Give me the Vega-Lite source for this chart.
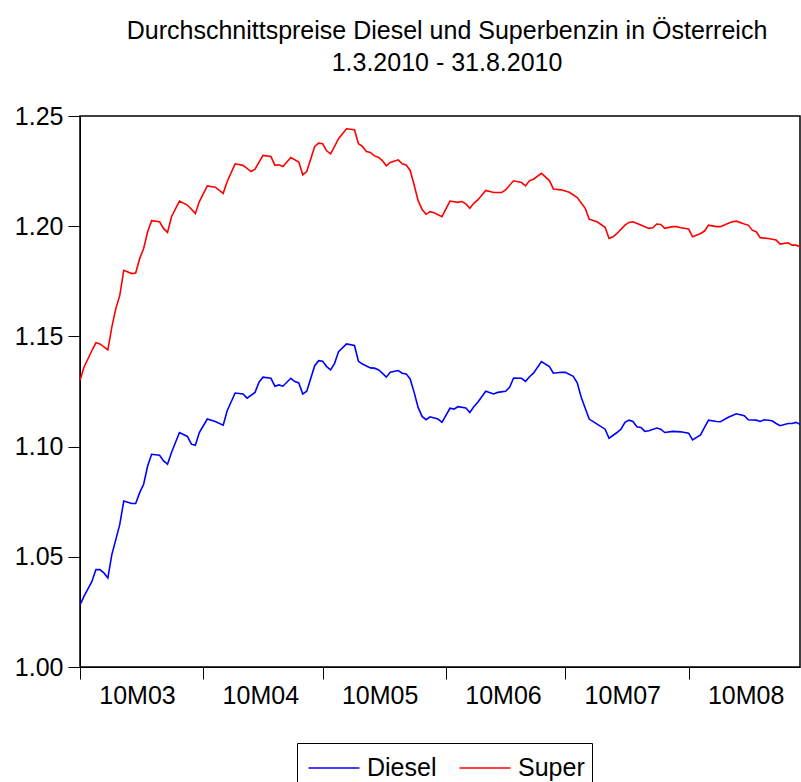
{
  "$schema": "https://vega.github.io/schema/vega-lite/v6.json",
  "width": 720,
  "height": 551,
  "autosize": {"type": "none"},
  "padding": {"left": 80, "top": 116, "right": 1, "bottom": 115},
  "background": "white",
  "config": {
    "font": "Liberation Sans",
    "view": {"stroke": "black", "strokeWidth": 1.5},
    "axis": {"grid": false, "domainColor": "black", "tickColor": "black", "labelColor": "black", "labelFont": "Liberation Sans", "labelFontSize": 25, "title": null}
  },
  "title": {
    "text": ["Durchschnittspreise Diesel und Superbenzin in Österreich", "1.3.2010 - 31.8.2010"],
    "fontSize": 25,
    "fontWeight": "normal",
    "font": "Liberation Sans",
    "lineHeight": 32,
    "anchor": "middle",
    "dx": 7,
    "offset": 28,
    "color": "black"
  },
  "data": {
    "values": [
      {"date":"2010-03-01","s":"Super","v":1.130},{"date":"2010-03-02","s":"Super","v":1.136},{"date":"2010-03-04","s":"Super","v":1.1436},{"date":"2010-03-05","s":"Super","v":1.1471},{"date":"2010-03-06","s":"Super","v":1.1466},{"date":"2010-03-08","s":"Super","v":1.1439},{"date":"2010-03-09","s":"Super","v":1.1542},{"date":"2010-03-10","s":"Super","v":1.1626},{"date":"2010-03-11","s":"Super","v":1.1686},{"date":"2010-03-12","s":"Super","v":1.1800},{"date":"2010-03-14","s":"Super","v":1.1785},{"date":"2010-03-15","s":"Super","v":1.1788},{"date":"2010-03-16","s":"Super","v":1.1853},{"date":"2010-03-17","s":"Super","v":1.1899},{"date":"2010-03-18","s":"Super","v":1.1975},{"date":"2010-03-19","s":"Super","v":1.2025},{"date":"2010-03-21","s":"Super","v":1.2020},{"date":"2010-03-22","s":"Super","v":1.1990},{"date":"2010-03-23","s":"Super","v":1.1972},{"date":"2010-03-24","s":"Super","v":1.2043},{"date":"2010-03-26","s":"Super","v":1.2114},{"date":"2010-03-28","s":"Super","v":1.2096},{"date":"2010-03-30","s":"Super","v":1.2058},{"date":"2010-03-31","s":"Super","v":1.2112},
      {"date":"2010-04-02","s":"Super","v":1.2183},{"date":"2010-04-04","s":"Super","v":1.2177},{"date":"2010-04-06","s":"Super","v":1.2149},{"date":"2010-04-07","s":"Super","v":1.2203},{"date":"2010-04-09","s":"Super","v":1.2283},{"date":"2010-04-11","s":"Super","v":1.2276},{"date":"2010-04-13","s":"Super","v":1.2248},{"date":"2010-04-14","s":"Super","v":1.2259},{"date":"2010-04-16","s":"Super","v":1.2321},{"date":"2010-04-18","s":"Super","v":1.2316},{"date":"2010-04-19","s":"Super","v":1.2276},{"date":"2010-04-20","s":"Super","v":1.2279},{"date":"2010-04-21","s":"Super","v":1.2271},{"date":"2010-04-23","s":"Super","v":1.2312},{"date":"2010-04-25","s":"Super","v":1.2291},{"date":"2010-04-26","s":"Super","v":1.2233},{"date":"2010-04-27","s":"Super","v":1.2248},{"date":"2010-04-29","s":"Super","v":1.2362},{"date":"2010-04-30","s":"Super","v":1.2377},
      {"date":"2010-05-01","s":"Super","v":1.2374},{"date":"2010-05-02","s":"Super","v":1.2342},{"date":"2010-05-03","s":"Super","v":1.2328},{"date":"2010-05-04","s":"Super","v":1.2362},{"date":"2010-05-05","s":"Super","v":1.2397},{"date":"2010-05-07","s":"Super","v":1.2442},{"date":"2010-05-09","s":"Super","v":1.2438},{"date":"2010-05-10","s":"Super","v":1.2374},{"date":"2010-05-11","s":"Super","v":1.2362},{"date":"2010-05-12","s":"Super","v":1.2339},{"date":"2010-05-13","s":"Super","v":1.2335},{"date":"2010-05-14","s":"Super","v":1.2319},{"date":"2010-05-15","s":"Super","v":1.2313},{"date":"2010-05-16","s":"Super","v":1.2298},{"date":"2010-05-17","s":"Super","v":1.2274},{"date":"2010-05-18","s":"Super","v":1.2289},{"date":"2010-05-20","s":"Super","v":1.2301},{"date":"2010-05-21","s":"Super","v":1.2283},{"date":"2010-05-22","s":"Super","v":1.2278},{"date":"2010-05-23","s":"Super","v":1.2253},{"date":"2010-05-24","s":"Super","v":1.2187},{"date":"2010-05-25","s":"Super","v":1.2116},{"date":"2010-05-26","s":"Super","v":1.2076},{"date":"2010-05-27","s":"Super","v":1.2054},{"date":"2010-05-28","s":"Super","v":1.2066},{"date":"2010-05-29","s":"Super","v":1.2061},{"date":"2010-05-31","s":"Super","v":1.2043},
      {"date":"2010-06-02","s":"Super","v":1.2114},{"date":"2010-06-04","s":"Super","v":1.2108},{"date":"2010-06-05","s":"Super","v":1.2112},{"date":"2010-06-06","s":"Super","v":1.2101},{"date":"2010-06-07","s":"Super","v":1.2081},{"date":"2010-06-08","s":"Super","v":1.2104},{"date":"2010-06-09","s":"Super","v":1.2119},{"date":"2010-06-11","s":"Super","v":1.2162},{"date":"2010-06-13","s":"Super","v":1.2153},{"date":"2010-06-15","s":"Super","v":1.2153},{"date":"2010-06-16","s":"Super","v":1.2165},{"date":"2010-06-18","s":"Super","v":1.2206},{"date":"2010-06-20","s":"Super","v":1.2198},{"date":"2010-06-21","s":"Super","v":1.2183},{"date":"2010-06-22","s":"Super","v":1.2207},{"date":"2010-06-23","s":"Super","v":1.2213},{"date":"2010-06-25","s":"Super","v":1.2240},{"date":"2010-06-27","s":"Super","v":1.2207},{"date":"2010-06-28","s":"Super","v":1.2169},{"date":"2010-06-30","s":"Super","v":1.2165},
      {"date":"2010-07-02","s":"Super","v":1.2154},{"date":"2010-07-04","s":"Super","v":1.2130},{"date":"2010-07-06","s":"Super","v":1.2081},{"date":"2010-07-07","s":"Super","v":1.2032},{"date":"2010-07-09","s":"Super","v":1.2020},{"date":"2010-07-11","s":"Super","v":1.1995},{"date":"2010-07-12","s":"Super","v":1.1944},{"date":"2010-07-13","s":"Super","v":1.1952},{"date":"2010-07-14","s":"Super","v":1.1967},{"date":"2010-07-16","s":"Super","v":1.2005},{"date":"2010-07-17","s":"Super","v":1.2017},{"date":"2010-07-18","s":"Super","v":1.2020},{"date":"2010-07-20","s":"Super","v":1.2005},{"date":"2010-07-22","s":"Super","v":1.1990},{"date":"2010-07-23","s":"Super","v":1.1993},{"date":"2010-07-24","s":"Super","v":1.2010},{"date":"2010-07-25","s":"Super","v":1.2008},{"date":"2010-07-26","s":"Super","v":1.1990},{"date":"2010-07-28","s":"Super","v":1.1998},{"date":"2010-07-29","s":"Super","v":1.1998},{"date":"2010-07-30","s":"Super","v":1.1993},
      {"date":"2010-08-01","s":"Super","v":1.1987},{"date":"2010-08-02","s":"Super","v":1.1952},{"date":"2010-08-04","s":"Super","v":1.1967},{"date":"2010-08-05","s":"Super","v":1.1978},{"date":"2010-08-06","s":"Super","v":1.2005},{"date":"2010-08-08","s":"Super","v":1.1998},{"date":"2010-08-09","s":"Super","v":1.1998},{"date":"2010-08-11","s":"Super","v":1.2013},{"date":"2010-08-12","s":"Super","v":1.2020},{"date":"2010-08-13","s":"Super","v":1.2023},{"date":"2010-08-15","s":"Super","v":1.2010},{"date":"2010-08-16","s":"Super","v":1.2005},{"date":"2010-08-17","s":"Super","v":1.1982},{"date":"2010-08-18","s":"Super","v":1.1975},{"date":"2010-08-19","s":"Super","v":1.1948},{"date":"2010-08-21","s":"Super","v":1.1944},{"date":"2010-08-23","s":"Super","v":1.1937},{"date":"2010-08-24","s":"Super","v":1.1919},{"date":"2010-08-26","s":"Super","v":1.1925},{"date":"2010-08-27","s":"Super","v":1.1914},{"date":"2010-08-28","s":"Super","v":1.1914},{"date":"2010-08-29","s":"Super","v":1.1907},
      {"date":"2010-03-01","s":"Diesel","v":1.0282},{"date":"2010-03-02","s":"Diesel","v":1.0320},{"date":"2010-03-04","s":"Diesel","v":1.0388},{"date":"2010-03-05","s":"Diesel","v":1.0442},{"date":"2010-03-06","s":"Diesel","v":1.0442},{"date":"2010-03-07","s":"Diesel","v":1.0427},{"date":"2010-03-08","s":"Diesel","v":1.0404},{"date":"2010-03-09","s":"Diesel","v":1.0510},{"date":"2010-03-10","s":"Diesel","v":1.0578},{"date":"2010-03-11","s":"Diesel","v":1.0647},{"date":"2010-03-12","s":"Diesel","v":1.0753},{"date":"2010-03-14","s":"Diesel","v":1.0742},{"date":"2010-03-15","s":"Diesel","v":1.0742},{"date":"2010-03-16","s":"Diesel","v":1.0791},{"date":"2010-03-17","s":"Diesel","v":1.0829},{"date":"2010-03-18","s":"Diesel","v":1.0912},{"date":"2010-03-19","s":"Diesel","v":1.0965},{"date":"2010-03-21","s":"Diesel","v":1.0961},{"date":"2010-03-22","s":"Diesel","v":1.0935},{"date":"2010-03-23","s":"Diesel","v":1.0920},{"date":"2010-03-24","s":"Diesel","v":1.0973},{"date":"2010-03-26","s":"Diesel","v":1.1064},{"date":"2010-03-28","s":"Diesel","v":1.1046},{"date":"2010-03-29","s":"Diesel","v":1.1011},{"date":"2010-03-30","s":"Diesel","v":1.1006},{"date":"2010-03-31","s":"Diesel","v":1.1064},
      {"date":"2010-04-02","s":"Diesel","v":1.1125},{"date":"2010-04-04","s":"Diesel","v":1.1114},{"date":"2010-04-06","s":"Diesel","v":1.1097},{"date":"2010-04-07","s":"Diesel","v":1.1163},{"date":"2010-04-09","s":"Diesel","v":1.1243},{"date":"2010-04-11","s":"Diesel","v":1.1239},{"date":"2010-04-12","s":"Diesel","v":1.1220},{"date":"2010-04-14","s":"Diesel","v":1.1246},{"date":"2010-04-15","s":"Diesel","v":1.1292},{"date":"2010-04-16","s":"Diesel","v":1.1315},{"date":"2010-04-18","s":"Diesel","v":1.1310},{"date":"2010-04-19","s":"Diesel","v":1.1274},{"date":"2010-04-20","s":"Diesel","v":1.1280},{"date":"2010-04-21","s":"Diesel","v":1.1274},{"date":"2010-04-23","s":"Diesel","v":1.1310},{"date":"2010-04-24","s":"Diesel","v":1.1295},{"date":"2010-04-25","s":"Diesel","v":1.1289},{"date":"2010-04-26","s":"Diesel","v":1.1239},{"date":"2010-04-27","s":"Diesel","v":1.1251},{"date":"2010-04-29","s":"Diesel","v":1.1367},{"date":"2010-04-30","s":"Diesel","v":1.1390},
      {"date":"2010-05-01","s":"Diesel","v":1.1387},{"date":"2010-05-02","s":"Diesel","v":1.1363},{"date":"2010-05-03","s":"Diesel","v":1.1348},{"date":"2010-05-04","s":"Diesel","v":1.1378},{"date":"2010-05-05","s":"Diesel","v":1.1431},{"date":"2010-05-07","s":"Diesel","v":1.1466},{"date":"2010-05-09","s":"Diesel","v":1.1459},{"date":"2010-05-10","s":"Diesel","v":1.1387},{"date":"2010-05-11","s":"Diesel","v":1.1375},{"date":"2010-05-13","s":"Diesel","v":1.1357},{"date":"2010-05-14","s":"Diesel","v":1.1356},{"date":"2010-05-15","s":"Diesel","v":1.1349},{"date":"2010-05-16","s":"Diesel","v":1.1333},{"date":"2010-05-17","s":"Diesel","v":1.1315},{"date":"2010-05-18","s":"Diesel","v":1.1337},{"date":"2010-05-20","s":"Diesel","v":1.1345},{"date":"2010-05-21","s":"Diesel","v":1.1333},{"date":"2010-05-22","s":"Diesel","v":1.1330},{"date":"2010-05-23","s":"Diesel","v":1.1307},{"date":"2010-05-24","s":"Diesel","v":1.1246},{"date":"2010-05-25","s":"Diesel","v":1.1178},{"date":"2010-05-26","s":"Diesel","v":1.1137},{"date":"2010-05-27","s":"Diesel","v":1.1122},{"date":"2010-05-28","s":"Diesel","v":1.1135},{"date":"2010-05-30","s":"Diesel","v":1.1125},{"date":"2010-05-31","s":"Diesel","v":1.1110},
      {"date":"2010-06-02","s":"Diesel","v":1.1174},{"date":"2010-06-03","s":"Diesel","v":1.1170},{"date":"2010-06-04","s":"Diesel","v":1.1181},{"date":"2010-06-06","s":"Diesel","v":1.1175},{"date":"2010-06-07","s":"Diesel","v":1.1155},{"date":"2010-06-08","s":"Diesel","v":1.1181},{"date":"2010-06-09","s":"Diesel","v":1.1201},{"date":"2010-06-11","s":"Diesel","v":1.1251},{"date":"2010-06-13","s":"Diesel","v":1.1239},{"date":"2010-06-14","s":"Diesel","v":1.1246},{"date":"2010-06-16","s":"Diesel","v":1.1251},{"date":"2010-06-17","s":"Diesel","v":1.1269},{"date":"2010-06-18","s":"Diesel","v":1.1311},{"date":"2010-06-20","s":"Diesel","v":1.1310},{"date":"2010-06-21","s":"Diesel","v":1.1296},{"date":"2010-06-22","s":"Diesel","v":1.1317},{"date":"2010-06-23","s":"Diesel","v":1.1333},{"date":"2010-06-25","s":"Diesel","v":1.1386},{"date":"2010-06-27","s":"Diesel","v":1.1363},{"date":"2010-06-28","s":"Diesel","v":1.1333},{"date":"2010-06-30","s":"Diesel","v":1.1337},
      {"date":"2010-07-01","s":"Diesel","v":1.1337},{"date":"2010-07-03","s":"Diesel","v":1.1319},{"date":"2010-07-04","s":"Diesel","v":1.1289},{"date":"2010-07-05","s":"Diesel","v":1.1224},{"date":"2010-07-07","s":"Diesel","v":1.1125},{"date":"2010-07-09","s":"Diesel","v":1.1102},{"date":"2010-07-11","s":"Diesel","v":1.1079},{"date":"2010-07-12","s":"Diesel","v":1.1038},{"date":"2010-07-14","s":"Diesel","v":1.1064},{"date":"2010-07-15","s":"Diesel","v":1.1079},{"date":"2010-07-16","s":"Diesel","v":1.1110},{"date":"2010-07-17","s":"Diesel","v":1.1120},{"date":"2010-07-18","s":"Diesel","v":1.1114},{"date":"2010-07-19","s":"Diesel","v":1.1090},{"date":"2010-07-20","s":"Diesel","v":1.1087},{"date":"2010-07-21","s":"Diesel","v":1.1069},{"date":"2010-07-22","s":"Diesel","v":1.1072},{"date":"2010-07-24","s":"Diesel","v":1.1084},{"date":"2010-07-25","s":"Diesel","v":1.1079},{"date":"2010-07-26","s":"Diesel","v":1.1064},{"date":"2010-07-28","s":"Diesel","v":1.1069},{"date":"2010-07-30","s":"Diesel","v":1.1067},
      {"date":"2010-08-01","s":"Diesel","v":1.1061},{"date":"2010-08-02","s":"Diesel","v":1.1030},{"date":"2010-08-04","s":"Diesel","v":1.1053},{"date":"2010-08-05","s":"Diesel","v":1.1087},{"date":"2010-08-06","s":"Diesel","v":1.1120},{"date":"2010-08-08","s":"Diesel","v":1.1114},{"date":"2010-08-09","s":"Diesel","v":1.1113},{"date":"2010-08-11","s":"Diesel","v":1.1133},{"date":"2010-08-13","s":"Diesel","v":1.1149},{"date":"2010-08-15","s":"Diesel","v":1.1140},{"date":"2010-08-16","s":"Diesel","v":1.1122},{"date":"2010-08-18","s":"Diesel","v":1.1120},{"date":"2010-08-19","s":"Diesel","v":1.1114},{"date":"2010-08-20","s":"Diesel","v":1.1122},{"date":"2010-08-22","s":"Diesel","v":1.1117},{"date":"2010-08-23","s":"Diesel","v":1.1105},{"date":"2010-08-24","s":"Diesel","v":1.1095},{"date":"2010-08-26","s":"Diesel","v":1.1105},{"date":"2010-08-27","s":"Diesel","v":1.1105},{"date":"2010-08-28","s":"Diesel","v":1.1110},{"date":"2010-08-29","s":"Diesel","v":1.1101}
    ],
    "format": {"parse": {"date": "date:'%Y-%m-%d'"}}
  },
  "mark": {"type": "line", "strokeWidth": 1.6, "clip": true},
  "encoding": {
    "x": {
      "field": "date",
      "type": "temporal",
      "scale": {"domain": [{"year": 2010, "month": 3, "date": 1}, {"year": 2010, "month": 8, "date": 29}], "nice": false},
      "axis": {
        "values": [{"year": 2010, "month": 3, "date": 1}, {"year": 2010, "month": 4, "date": 1}, {"year": 2010, "month": 5, "date": 1}, {"year": 2010, "month": 6, "date": 1}, {"year": 2010, "month": 7, "date": 1}, {"year": 2010, "month": 8, "date": 1}],
        "format": "%yM%m",
        "labelOffset": 57,
        "labelAlign": "center",
        "labelOverlap": false,
        "labelFlush": false,
        "labelBound": false,
        "tickSize": 12,
        "labelPadding": 4,
        "domain": true
      }
    },
    "y": {
      "field": "v",
      "type": "quantitative",
      "scale": {"domain": [1.0, 1.25], "nice": false, "zero": false},
      "axis": {"values": [1.0, 1.05, 1.1, 1.15, 1.2, 1.25], "format": ".2f", "tickSize": 12, "labelPadding": 5, "labelFontSize": 25}
    },
    "color": {
      "field": "s",
      "type": "nominal",
      "scale": {"domain": ["Diesel", "Super"], "range": ["#0000FF", "#FF0000"]},
      "legend": {
        "title": null,
        "orient": "none",
        "legendX": 217,
        "legendY": 627,
        "direction": "horizontal",
        "symbolType": "M-1.5,0H1.5",
        "symbolSize": 1156,
        "symbolOffset": 12,
        "symbolStrokeWidth": 1.6,
        "labelFontSize": 25,
        "labelFont": "Liberation Sans",
        "labelColor": "black",
        "labelOffset": 15,
        "columnPadding": 18,
        "strokeColor": "black",
        "padding": 7,
        "fillColor": "white"
      }
    }
  }
}
